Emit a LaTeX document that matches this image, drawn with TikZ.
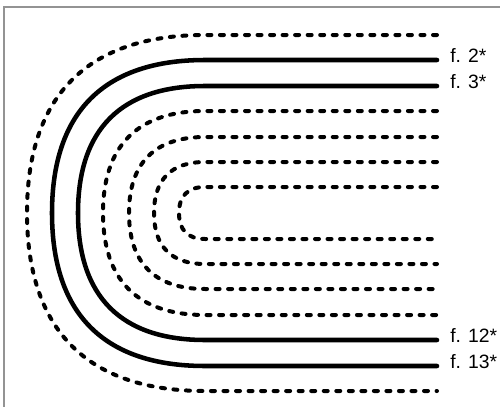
\documentclass[tikz,border=0pt]{standalone}
\usepackage{fontspec}
\setmainfont{Liberation Sans}
\begin{document}
\begin{tikzpicture}[x=0.75pt,y=-0.75pt,font=\fontsize{14.5}{17}\selectfont,
frame/.style={draw=gray!85,line width=1.1pt},
leaf/.style={line width=3.4pt,line cap=round},
cutleaf/.style={line width=3pt,line cap=round,dash pattern=on 3pt off 6.4pt},
lbl/.style={anchor=base west,inner sep=0pt}]
\useasboundingbox (0,0) rectangle (500,407);
\draw[frame] (4,407) -- (4,7) -- (500,7);
% folded leaves, outer to inner
\foreach \r/\s in {178/cutleaf,153/leaf,127/leaf,102/cutleaf,76/cutleaf,51/cutleaf,26/cutleaf}
  \draw[\s] (437,213-\r) -- (205,213-\r) .. controls (205-0.66*\r,213-\r) and (205-\r,213-0.66*\r) .. (205-\r,213)
    .. controls (205-\r,213+0.66*\r) and (205-0.66*\r,213+\r) .. (205,213+\r) -- (437,213+\r);
\node[lbl] (f2) at (450,62) {f. 2*};
\node[lbl] (f3) at (450,88) {f. 3*};
\node[lbl] (f12) at (450,342) {f. 12*};
\node[lbl] (f13) at (450,368) {f. 13*};
\end{tikzpicture}
\end{document}
